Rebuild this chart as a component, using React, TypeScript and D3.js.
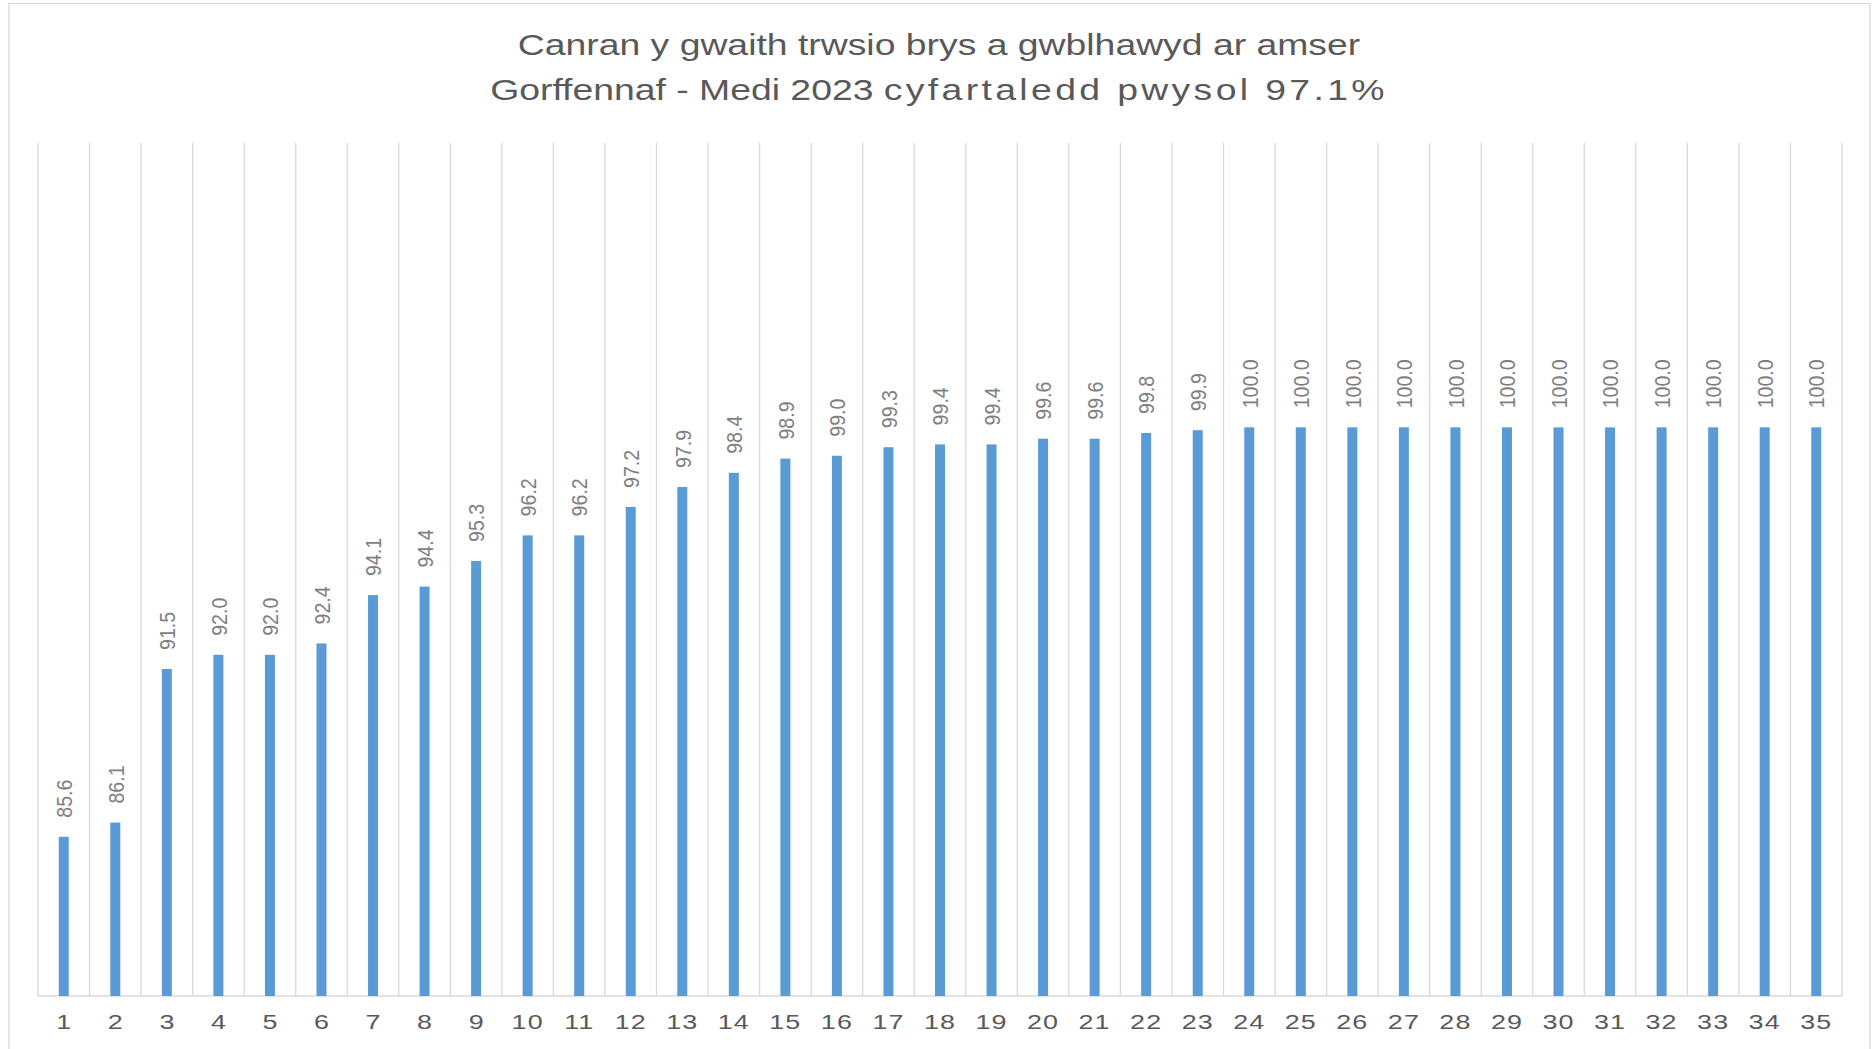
import React from "react";
import * as d3 from "d3";

const categories: string[] = Array.from({ length: 35 }, (_, i) => String(i + 1));
const values: number[] = [
  85.6, 86.1, 91.5, 92.0, 92.0, 92.4, 94.1, 94.4, 95.3, 96.2, 96.2, 97.2, 97.9, 98.4,
  98.9, 99.0, 99.3, 99.4, 99.4, 99.6, 99.6, 99.8, 99.9, 100.0, 100.0, 100.0, 100.0,
  100.0, 100.0, 100.0, 100.0, 100.0, 100.0, 100.0, 100.0,
];
const titleLine1 = "Canran y gwaith trwsio brys a gwblhawyd ar amser";
const titleLine2a = "Gorffennaf - Medi 2023 ";
const titleLine2b = "cyfartaledd pwysol 97.1%";
const yDomain: [number, number] = [80, 110];

const W = 1875;
const H = 1049;
const plot = { left: 38, right: 1842, top: 143, bottom: 996 };
const FONT = "'Liberation Sans', Arial, sans-serif";
const SX = 1.38;
const SX_TITLE = 1.245;

export default function App() {
  const x = d3.scaleBand<string>().domain(categories).range([plot.left, plot.right]).padding(0);
  const y = d3.scaleLinear().domain(yDomain).range([plot.bottom, plot.top]);
  const bw = x.bandwidth() * 0.194;
  const cx = (c: string) => (x(c) as number) + x.bandwidth() / 2;

  const gridXs = categories.map((c) => x(c) as number).concat([plot.right]);

  return (
    <svg width={W} height={H} style={{ position: "absolute", left: 0, top: 0 }} fontFamily={FONT}>
      <rect x={0} y={0} width={W} height={H} fill="#fff" />
      <rect x={9} y={3.5} width={1861} height={1100} fill="#fff" stroke="#d9d9d9" strokeWidth={1.3} />
      {/* title */}
      <g transform={`translate(939,0) scale(${SX_TITLE},1)`} fill="#595959" fontSize={30} textAnchor="middle">
        <text x={0} y={55.5}>{titleLine1}</text>
        <text x={0} y={100.5}>
          <tspan>{titleLine2a}</tspan>
          <tspan letterSpacing={2.7}>{titleLine2b}</tspan>
        </text>
      </g>
      {/* gridlines */}
      {gridXs.map((gx, i) => (
        <line key={i} x1={gx} x2={gx} y1={plot.top} y2={plot.bottom} stroke="#d9d9d9" strokeWidth={1.3} />
      ))}
      <line x1={plot.left} x2={plot.right} y1={plot.bottom} y2={plot.bottom} stroke="#d9d9d9" strokeWidth={1.3} />
      {/* bars */}
      {categories.map((c, i) => (
        <rect key={c} x={cx(c) - bw / 2} y={y(values[i])} width={bw} height={plot.bottom - y(values[i])} fill="#5b9bd5" />
      ))}
      {/* data labels */}
      {categories.map((c, i) => (
        <text
          key={"l" + c}
          transform={`translate(${cx(c)},${y(values[i]) - 19}) scale(1.17,1) rotate(-90)`}
          dy="0.36em"
          fontSize={19.6}
          fill="#7f7f7f"
          textAnchor="start"
        >
          {values[i].toFixed(1)}
        </text>
      ))}
      {/* x axis labels */}
      {categories.map((c) => (
        <text
          key={"x" + c}
          transform={`translate(${cx(c)},1029) scale(${SX},1)`}
          fontSize={19.5}
          fill="#595959"
          textAnchor="middle"
          letterSpacing={c.length > 1 ? 0.8 : 0}
        >
          {c}
        </text>
      ))}
    </svg>
  );
}
